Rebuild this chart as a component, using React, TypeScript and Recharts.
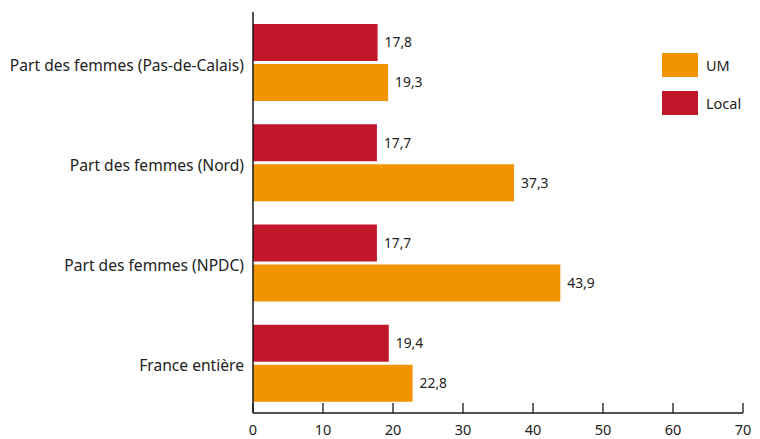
import { BarChart, Bar, XAxis, YAxis, LabelList } from 'recharts';

const categories = [
  'Part des femmes (Pas-de-Calais)',
  'Part des femmes (Nord)',
  'Part des femmes (NPDC)',
  'France entière',
];
const localValues = [17.8, 17.7, 17.7, 19.4];
const umValues = [19.3, 37.3, 43.9, 22.8];
const xTicks = [0, 10, 20, 30, 40, 50, 60, 70];

const RED = '#c0172a';
const ORANGE = '#f29400';
const FONT = '"Noto Sans", "Open Sans", sans-serif';

const legendItems = [
  { name: 'UM', color: ORANGE },
  { name: 'Local', color: RED },
];

const data = categories.map((name, i) => ({
  name,
  local: localValues[i],
  um: umValues[i],
}));

const fmt = (v: any) => String(v).replace('.', ',');

const XTick = (props: any) => {
  const { x, y, payload } = props;
  const axisY = y - 12;
  return (
    <g>
      <line x1={x} x2={x} y1={axisY - 10} y2={axisY} stroke="#1a1a1a" strokeWidth={1.3} />
      <text x={x} y={y} dy="0.71em" textAnchor="middle" fill="#222" fontSize={14.5} fontFamily={FONT}>
        {payload.value}
      </text>
    </g>
  );
};

const YTick = (props: any) => {
  const { x, y, payload } = props;
  return (
    <text x={x} y={y + 3} dy="0.355em" textAnchor="end" fill="#222" fontSize={15.6} fontFamily={FONT}>
      {payload.value}
    </text>
  );
};

export default function App() {
  return (
    <div style={{ position: 'absolute', left: 0, top: 0, width: 760, height: 439, fontFamily: FONT }}>
      <BarChart
        width={760}
        height={439}
        data={data}
        layout="vertical"
        margin={{ top: 12, right: 17, bottom: 0, left: 0 }}
        barCategoryGap={12}
        barGap={3}
      >
        <XAxis
          type="number"
          domain={[0, 70]}
          ticks={xTicks}
          height={26}
          tickLine={false}
          tickSize={0}
          tickMargin={12}
          axisLine={{ stroke: '#1a1a1a', strokeWidth: 1.5 }}
          tick={<XTick />}
          interval={0}
        />
        <YAxis
          type="category"
          dataKey="name"
          width={253}
          tickLine={false}
          tickSize={0}
          tickMargin={9}
          axisLine={{ stroke: '#1a1a1a', strokeWidth: 1.5 }}
          tick={<YTick />}
        />
        <Bar dataKey="local" name="Local" fill={RED} isAnimationActive={false}>
          <LabelList dataKey="local" position="right" offset={7} formatter={fmt} fill="#222" fontSize={13.8} fontFamily={FONT} />
        </Bar>
        <Bar dataKey="um" name="UM" fill={ORANGE} isAnimationActive={false}>
          <LabelList dataKey="um" position="right" offset={7} formatter={fmt} fill="#222" fontSize={13.8} fontFamily={FONT} />
        </Bar>
      </BarChart>
      <div style={{ position: 'absolute', left: 662, top: 53 }}>
        {legendItems.map((item) => (
          <div key={item.name} style={{ display: 'flex', alignItems: 'center', height: 24, marginBottom: 14 }}>
            <div style={{ width: 36, height: 24, background: item.color }} />
            <span style={{ marginLeft: 8, fontSize: 14.5, color: '#222' }}>{item.name}</span>
          </div>
        ))}
      </div>
    </div>
  );
}
